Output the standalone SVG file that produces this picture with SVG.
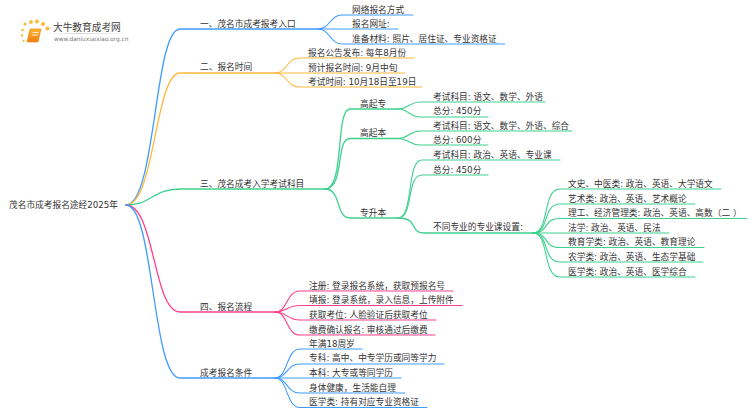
<svg xmlns="http://www.w3.org/2000/svg" width="750" height="410" viewBox="0 0 750 410">
<style>
text{font-family:"DejaVu Sans","Noto Sans CJK SC",sans-serif;font-size:8.7px;fill:#333}
.c{fill:none;stroke-linecap:round}
.m{stroke-width:1.3}
.l{stroke-width:1.1}
.blue{stroke:#3f9bff}.orange{stroke:#ffb83d}.green{stroke:#3fd08f}.pink{stroke:#ff3f8a}
</style>
<defs>
<linearGradient id="bk" x1="0" y1="0" x2="0" y2="1"><stop offset="0" stop-color="#fbb62a"/><stop offset="1" stop-color="#ee7d11"/></linearGradient>
<linearGradient id="fade" x1="0" y1="0" x2="1" y2="0"><stop offset="0" stop-color="#ccc" stop-opacity="0"/><stop offset=".4" stop-color="#ccc"/><stop offset="1" stop-color="#ccc" stop-opacity="0"/></linearGradient>
</defs>
<rect width="750" height="410" fill="#fff"/>
<g id="logo">
<g fill="#f9b93a"><circle cx="25" cy="24" r="1.500"/><circle cx="31" cy="22" r="1.900"/><circle cx="37" cy="21.500" r="2"/><circle cx="43" cy="24" r="2"/><circle cx="47.500" cy="28.500" r="2.100"/><circle cx="22.500" cy="30" r="1.300"/><circle cx="22" cy="35.500" r="1.200"/><circle cx="23.500" cy="41" r="1.100"/></g>
<path d="M30 29h11l-3 13h-11z" fill="url(#bk)" stroke="#e9820f" stroke-width=".6"/>
<path d="M32.500 32.500h6M31.700 35h6" stroke="#fff" stroke-width=".8"/>
<rect x="45" y="33" width="88" height=".8" fill="url(#fade)"/>
<text x="53" y="30.500" style="font-size:9.700px;fill:#444">大牛教育成考网</text>
<text x="54" y="40.500" style="font-size:5.800px;fill:#777">www.daniuxuexiao.org.cn</text>
</g>
<g id="connectors">
<g class="c m">
<path class="blue" d="M126 205C156 205 154 29 180 29H318"/>
<path class="orange" d="M126 205C155 205 155 73 180 73H275"/>
<path class="green" d="M126 205C152 205 152 189 180 189H325"/>
<path class="pink" d="M126 205C155 205 153 312 180 312H275"/>
<path class="blue" d="M126 205C154 205 152 378 180 378H275"/>
<path class="green" d="M325 189C345 189 335 109 350 109H398"/>
<path class="green" d="M325 189C345 189 335 138.500 350 138.500H398"/>
<path class="green" d="M325 189C342 189 335 218 350 218H398"/>
<path class="green" d="M398 218C420 218 408 233 425 233H533"/>
</g>
<g class="c l">
<path class="blue" d="M318 29C330 29 330 15 342 15H413"/>
<path class="blue" d="M318 29C330 29 330 29 342 29H398"/>
<path class="blue" d="M318 29C330 29 330 44 342 44H505"/>
<path class="orange" d="M275 73C287 73 287 58 299 58H414"/>
<path class="orange" d="M275 73C287 73 287 73 299 73H405"/>
<path class="orange" d="M275 73C287 73 287 87 299 87H422"/>
<path class="green" d="M398 109C409 109 409 102 420 102H545"/>
<path class="green" d="M398 109C409 109 409 117 420 117H488"/>
<path class="green" d="M398 138.500C409 138.500 409 131 420 131H572"/>
<path class="green" d="M398 138.500C409 138.500 409 145 420 145H488"/>
<path class="green" d="M398 218C414 218 406 160 422 160H560"/>
<path class="green" d="M398 218C414 218 406 175 422 175H488"/>
<path class="green" d="M533 233C550 233 542 189 560 189H721"/>
<path class="green" d="M533 233C550 233 542 204 560 204H695"/>
<path class="green" d="M533 233C550 233 542 218.500 560 218.500H747"/>
<path class="green" d="M533 233C550 233 542 233 560 233H669"/>
<path class="green" d="M533 233C550 233 542 247.500 560 247.500H704"/>
<path class="green" d="M533 233C550 233 542 262 560 262H703"/>
<path class="green" d="M533 233C550 233 542 277 560 277H695"/>
<path class="pink" d="M275 312C288 312 286 291 300 291H453"/>
<path class="pink" d="M275 312C288 312 286 305.500 300 305.500H462"/>
<path class="pink" d="M275 312C288 312 286 320 300 320H436"/>
<path class="pink" d="M275 312C288 312 286 335 300 335H435"/>
<path class="blue" d="M275 378C288 378 286 349 300 349H362"/>
<path class="blue" d="M275 378C288 378 286 364 300 364H444"/>
<path class="blue" d="M275 378C288 378 286 378 300 378H401"/>
<path class="blue" d="M275 378C288 378 286 393 300 393H405"/>
<path class="blue" d="M275 378C288 378 286 407.500 300 407.500H427"/>
</g>
</g>
<g id="root"><text x="9" y="208">茂名市成考报名途经2025年</text></g>
<g id="n1"><text x="200" y="27">一、茂名市成考报考入口</text></g>
<g id="n1a"><text x="352" y="12.500">网络报名方式</text></g>
<g id="n1b"><text x="352" y="27">报名网址:</text></g>
<g id="n1c"><text x="352" y="41.500">准备材料: 照片、居住证、专业资格证</text></g>
<g id="n2"><text x="200" y="70">二、报名时间</text></g>
<g id="n2a"><text x="308" y="56">报名公告发布: 每年8月份</text></g>
<g id="n2b"><text x="308" y="70.500">预计报名时间: 9月中旬</text></g>
<g id="n2c"><text x="308" y="85">考试时间: 10月18日至19日</text></g>
<g id="n3"><text x="200" y="187">三、茂名成考入学考试科目</text></g>
<g id="n31"><text x="360" y="107">高起专</text></g>
<g id="n311"><text x="433" y="100">考试科目: 语文、数学、外语</text></g>
<g id="n312"><text x="433" y="114">总分: 450分</text></g>
<g id="n32"><text x="360" y="136">高起本</text></g>
<g id="n321"><text x="433" y="129">考试科目: 语文、数学、外语、综合</text></g>
<g id="n322"><text x="433" y="143">总分: 600分</text></g>
<g id="n33"><text x="360" y="216">专升本</text></g>
<g id="n331"><text x="433" y="158">考试科目: 政治、英语、专业课</text></g>
<g id="n332"><text x="433" y="172.500">总分: 450分</text></g>
<g id="n333"><text x="433" y="230">不同专业的专业课设置:</text></g>
<g id="n3331"><text x="568" y="187">文史、中医类: 政治、英语、大学语文</text></g>
<g id="n3332"><text x="568" y="201.500">艺术类: 政治、英语、艺术概论</text></g>
<g id="n3333"><text x="568" y="216">理工、经济管理类: 政治、英语、高数（二<tspan dx="3">）</tspan></text></g>
<g id="n3334"><text x="568" y="230.500">法学: 政治、英语、民法</text></g>
<g id="n3335"><text x="568" y="245">教育学类: 政治、英语、教育理论</text></g>
<g id="n3336"><text x="568" y="260">农学类: 政治、英语、生态学基础</text></g>
<g id="n3337"><text x="568" y="274.500">医学类: 政治、英语、医学综合</text></g>
<g id="n4"><text x="200" y="310">四、报名流程</text></g>
<g id="n4a"><text x="309" y="288.500">注册: 登录报名系统，获取预报名号</text></g>
<g id="n4b"><text x="309" y="303">填报: 登录系统，录入信息，上传附件</text></g>
<g id="n4c"><text x="309" y="318">获取考位: 人脸验证后获取考位</text></g>
<g id="n4d"><text x="309" y="332.500">缴费确认报名: 审核通过后缴费</text></g>
<g id="n5"><text x="200" y="376">成考报名条件</text></g>
<g id="n5a"><text x="309" y="346.500">年满18周岁</text></g>
<g id="n5b"><text x="309" y="361">专科: 高中、中专学历或同等学力</text></g>
<g id="n5c"><text x="309" y="376">本科: 大专或等同学历</text></g>
<g id="n5d"><text x="309" y="390.500">身体健康，生活能自理</text></g>
<g id="n5e"><text x="309" y="405">医学类: 持有对应专业资格证</text></g>
</svg>
